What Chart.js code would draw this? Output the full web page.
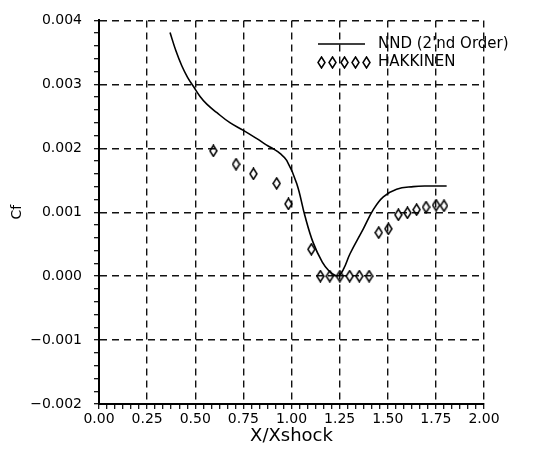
<!DOCTYPE html>
<html>
<head>
<meta charset="utf-8">
<script src="https://cdn.jsdelivr.net/npm/chart.js@4.4.1/dist/chart.umd.min.js"></script>
<style>
html,body{margin:0;padding:0;background:#fff;}
#wrap{width:535px;height:451px;}
</style>
</head>
<body>
<div id="wrap"><canvas id="c" width="535" height="451"></canvas></div>
<script>
// NND (2'nd Order) curve
const nndX  = [0.369, 0.400, 0.430, 0.460, 0.490, 0.525, 0.560, 0.611, 0.680, 0.750, 0.820, 0.871, 0.906, 0.940, 0.975, 1.027, 1.070, 1.113, 1.160, 1.195, 1.222, 1.247, 1.272, 1.304, 1.373, 1.425, 1.477, 1.546, 1.633, 1.700, 1.806];
const nndCf = [0.00381, 0.00352, 0.00329, 0.00311, 0.00297, 0.00281, 0.00269, 0.00256, 0.00240, 0.00228, 0.00215, 0.00205, 0.00199, 0.00192, 0.00181, 0.00145, 0.00094, 0.00052, 0.00022, 0.00008, 0.00002, 0.00001, 0.00012, 0.00035, 0.00074, 0.00104, 0.00124, 0.00136, 0.00140, 0.00141, 0.00141];
// HAKKINEN data
const hakX  = [0.594, 0.712, 0.802, 0.923, 0.984, 1.103, 1.150, 1.199, 1.251, 1.302, 1.352, 1.403, 1.453, 1.503, 1.555, 1.602, 1.650, 1.699, 1.751, 1.792];
const hakCf = [0.00196, 0.00175, 0.00160, 0.00145, 0.00113, 0.00042, 0, 0, 0, 0, 0, 0, 0.00068, 0.00074, 0.00096, 0.00099, 0.00104, 0.00108, 0.00111, 0.00110];
// axes
const xMin = 0, xMax = 2, xMajor = 0.25, xMinorPerMajor = 6;
const yMin = -0.002, yMax = 0.004, yMajor = 0.001, yMinorPerMajor = 5;
const legendLabels = ["NND (2'nd Order)", "HAKKINEN"];

function diamondCanvas(){
  const c = document.createElement('canvas');
  c.width = 9; c.height = 13;
  const g = c.getContext('2d');
  g.strokeStyle = '#000'; g.lineWidth = 1.5;
  g.beginPath();
  g.moveTo(4.5, 1); g.lineTo(8, 6.5); g.lineTo(4.5, 12); g.lineTo(1, 6.5); g.closePath();
  g.stroke();
  return c;
}
const diamond = diamondCanvas();

function isMajor(v, step){ const r = v/step; return Math.abs(r - Math.round(r)) < 1e-6; }
function fmtY(v){ const s = Math.abs(v).toFixed(3); return (v < -1e-9 ? '\u2212' : '') + s; }

const legendPlugin = {
  id: 'legendDraw',
  afterDatasetsDraw(chart){
    const ctx = chart.ctx;
    ctx.save();
    ctx.strokeStyle = '#000'; ctx.lineWidth = 1.5;
    ctx.beginPath(); ctx.moveTo(318, 44); ctx.lineTo(365, 44); ctx.stroke();
    for (let i = 0; i < 5; i++) {
      const cx = Math.round(321 + i * 11.3);
      ctx.drawImage(diamond, cx - 4, 62 - 6);
    }
    ctx.fillStyle = '#000';
    ctx.font = '15px "DejaVu Sans"';
    ctx.textBaseline = 'middle';
    ctx.textAlign = 'left';
    ctx.fillText(legendLabels[0], 378, 44);
    ctx.fillText(legendLabels[1], 378, 62);
    ctx.restore();
  }
};

const chart = new Chart(document.getElementById('c'), {
  type: 'line',
  data: {
    datasets: [
      {
        label: legendLabels[0],
        data: nndX.map((x, i) => ({x: x, y: nndCf[i]})),
        borderColor: '#000',
        borderWidth: 1.6,
        pointRadius: 0,
        fill: false,
        tension: 0.4
      },
      {
        label: legendLabels[1],
        data: hakX.map((x, i) => ({x: x, y: hakCf[i]})),
        showLine: false,
        pointStyle: diamond,
        pointRadius: 5,
        borderColor: '#000'
      }
    ]
  },
  options: {
    responsive: false,
    animation: false,
    devicePixelRatio: 1,
    layout: { padding: { left: 0, top: 16, right: 51, bottom: 0 } },
    plugins: { legend: { display: false }, tooltip: { enabled: false } },
    scales: {
      x: {
        type: 'linear', min: xMin, max: xMax,
        afterFit(s){ s.height = 47; },
        ticks: {
          stepSize: xMajor / xMinorPerMajor,
          autoSkip: false, maxRotation: 0, padding: 2,
          color: '#000',
          font: { family: 'DejaVu Sans', size: 14 },
          callback(v){ return isMajor(v, xMajor) ? v.toFixed(2) : ''; }
        },
        grid: {
          color(ctx){ return ctx.tick && isMajor(ctx.tick.value, xMajor) ? '#111' : 'rgba(0,0,0,0)'; },
          lineWidth: 1.4,
          tickColor: '#000', tickLength: 5, tickWidth: 1.2
        },
        border: { display: true, color: '#000', width: 2, dash: [7, 5] },
        title: { display: true, text: 'X/Xshock', color: '#000', font: { family: 'DejaVu Sans', size: 18 }, padding: { top: 0, bottom: 4 } }
      },
      y: {
        type: 'linear', min: yMin, max: yMax,
        afterFit(s){ s.width = 99; },
        ticks: {
          stepSize: yMajor / yMinorPerMajor,
          autoSkip: false, padding: 12,
          color: '#000',
          font: { family: 'DejaVu Sans', size: 14 },
          callback(v){ return isMajor(v, yMajor) ? fmtY(v) : ''; }
        },
        grid: {
          color(ctx){ return ctx.tick && isMajor(ctx.tick.value, yMajor) ? '#111' : 'rgba(0,0,0,0)'; },
          lineWidth: 1.4,
          tickColor: '#000', tickLength: 5, tickWidth: 1.2
        },
        border: { display: true, color: '#000', width: 2, dash: [7, 5] },
        title: { display: true, text: 'Cf', color: '#000', font: { family: 'DejaVu Sans', size: 14 }, padding: { top: 9, bottom: 0 } }
      }
    }
  },
  plugins: [legendPlugin]
});
</script>
</body>
</html>
